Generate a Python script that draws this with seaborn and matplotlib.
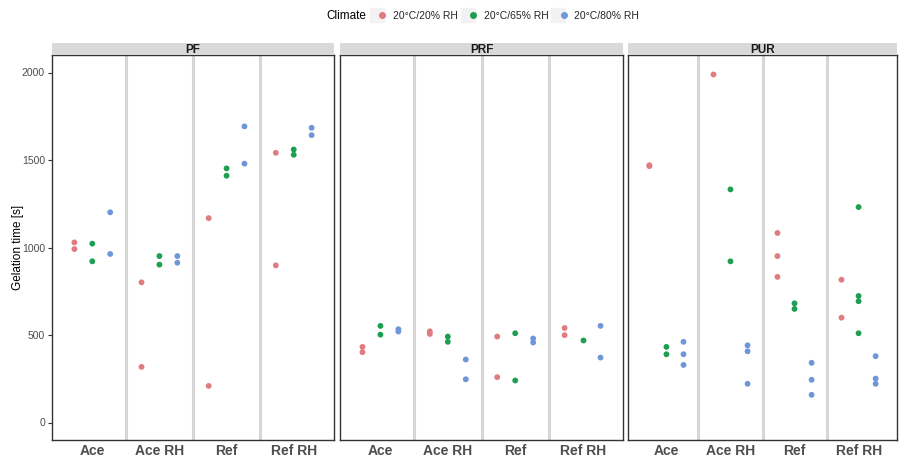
import matplotlib
matplotlib.use("Agg")
import matplotlib.pyplot as plt
from matplotlib.lines import Line2D
from matplotlib.legend_handler import HandlerTuple
import seaborn as sns
import pandas as pd

# Categories, facets and climates
categories = ["Ace", "Ace RH", "Ref", "Ref RH"]
panels = ["PF", "PRF", "PUR"]
climates = ["20°C/20% RH", "20°C/65% RH", "20°C/80% RH"]
palette = ["#E07B80", "#1E9E50", "#6E96D8"]

# Gelation times [s], one list per category (Ace, Ace RH, Ref, Ref RH)
pf_20 = [[1029, 991], [801, 318], [1168, 209], [1541, 898]]
pf_65 = [[1022, 921], [951, 902], [1452, 1410], [1560, 1530]]
pf_80 = [[1201, 963], [951, 913], [1692, 1479], [1684, 1642]]

prf_20 = [[432, 402], [521, 506], [491, 259], [540, 499]]
prf_65 = [[552, 502], [491, 461], [510, 240], [472]]
prf_80 = [[533, 520], [360, 247], [480, 457], [552, 371]]

pur_20 = [[1470, 1465], [1991], [1083, 951, 832], [816, 599]]
pur_65 = [[432, 390], [1332, 921], [681, 649], [1231, 723, 693, 510]]
pur_80 = [[461, 390, 329], [441, 407, 221], [341, 244, 158], [379, 251, 221]]

series = {
    "PF": [pf_20, pf_65, pf_80],
    "PRF": [prf_20, prf_65, prf_80],
    "PUR": [pur_20, pur_65, pur_80],
}

rows = []
for panel in panels:
    for clim, per_cat in zip(climates, series[panel]):
        for cat, vals in zip(categories, per_cat):
            for v in vals:
                rows.append({"Panel": panel, "Type": cat, "Climate": clim, "Gelation time [s]": v})
df = pd.DataFrame(rows)

sns.set_theme(style="white")
plt.rcParams["font.family"] = ["Liberation Sans", "DejaVu Sans"]

fig = plt.figure(figsize=(9, 4.59), dpi=100)
W, H = 900, 459
lefts = [52, 340, 628]
rights = [334, 623, 897]
top, bottom = 55, 440
strip_h = 12

tick_col = "#4D4D4D"
for i, panel in enumerate(panels):
    x0 = lefts[i] / W
    w = (rights[i] - lefts[i]) / W
    ax = fig.add_axes([x0, 1 - bottom / H, w, (bottom - top) / H])
    sub = df[df["Panel"] == panel]
    sns.stripplot(data=sub, x="Type", y="Gelation time [s]", hue="Climate",
                  order=categories, hue_order=climates, palette=palette,
                  dodge=True, jitter=False, size=4.2, linewidth=0, ax=ax,
                  legend=False, zorder=3)
    for xv in [0.5, 1.5, 2.5]:
        ax.axvline(xv, color="#D6D6D6", lw=2.2, zorder=1)
    ax.set_xlim(-0.6, 3.6)
    ax.set_ylim(-100, 2100)
    ax.set_yticks([0, 500, 1000, 1500, 2000])
    ax.set_xlabel("")
    for s in ax.spines.values():
        s.set_color("#333333")
        s.set_linewidth(1.0)
    ax.tick_params(axis="x", length=0, pad=3, labelsize=10, labelcolor=tick_col)
    for lab in ax.get_xticklabels():
        lab.set_fontweight("bold")
    if i == 0:
        ax.set_ylabel("Gelation time [s]", fontsize=8.5, color="black")
        ax.yaxis.set_label_coords(-0.10, 0.5)
        ax.tick_params(axis="y", length=3, width=0.8, color="#333333",
                       labelsize=7.5, labelcolor=tick_col, pad=2, left=True)
    else:
        ax.set_ylabel("")
        ax.set_yticklabels([])
        ax.tick_params(axis="y", length=0)
    # facet strip
    sax = fig.add_axes([x0, 1 - top / H, w, strip_h / H])
    sax.set_facecolor("#D9D9D9")
    sax.set_xticks([])
    sax.set_yticks([])
    for s in sax.spines.values():
        s.set_visible(False)
    sax.text(0.5, 0.38, panel, ha="center", va="center", fontsize=8.5,
             fontweight="bold", color="#1A1A1A", transform=sax.transAxes)

# legend across the top
fig.text(366 / W, 1 - 16 / H, "Climate", ha="right", va="center", fontsize=8.5, color="black")
handles = []
for c in palette:
    bg = Line2D([], [], marker="s", markersize=10, color="#F2F2F2", linestyle="none")
    dot = Line2D([], [], marker="o", markersize=4, color=c, linestyle="none")
    handles.append((bg, dot))
fig.legend(handles, climates, loc="center left", bbox_to_anchor=(374 / W, 1 - 16 / H),
           ncol=3, frameon=False, fontsize=7.5, handler_map={tuple: HandlerTuple(ndivide=None)},
           handlelength=1.0, handletextpad=0.8, columnspacing=0.7, borderaxespad=0,
           borderpad=0)

fig.savefig("out.png", dpi=100)
